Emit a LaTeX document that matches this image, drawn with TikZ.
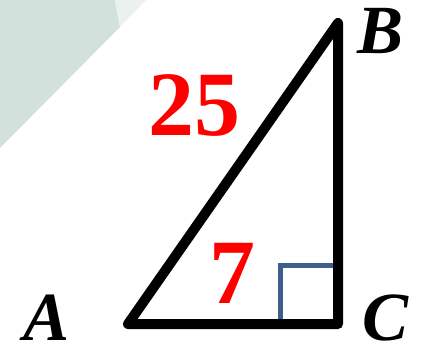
\documentclass[tikz,border=0pt]{standalone}
\usepackage{fontspec}
\setmainfont{Liberation Serif}
\definecolor{bgdark}{HTML}{D3E1DC}
\definecolor{bglight}{HTML}{EAF1EF}
\definecolor{markblue}{HTML}{3E5F8A}
\tikzset{
  side/.style={line width=10pt, line join=round, line cap=round, black},
  vlabel/.style={inner sep=0pt, font=\fontsize{69}{69}\selectfont\bfseries\itshape},
  numlabel/.style={inner sep=0pt, text=red, font=\fontsize{92}{92}\selectfont\bfseries},
  rmark/.style={line width=5pt, markblue}
}
\begin{document}
\begin{tikzpicture}[x=1pt,y=-1pt]
\useasboundingbox (0,0) rectangle (423,350);
\fill[bgdark] (0,0) -- (115,0) -- (120,27) -- (0,148) -- cycle;
\fill[bglight] (115,0) -- (146,0) -- (120,27) -- cycle;
\coordinate (A) at (128,324);
\coordinate (B) at (338,23);
\coordinate (C) at (338,324);
\coordinate (m1) at (280,324);
\coordinate (m2) at (280,265);
\coordinate (m3) at (338,265);
\draw[rmark] (m1) -- (m2) -- (m3);
\draw[side] (A) -- (B) -- (C) -- cycle;
\node[vlabel] (la) at (47,318) {A};
\node[vlabel] (lb) at (381,31) {B};
\node[vlabel] (lc) at (386,318) {C};
\node[numlabel] (n25) at (194,105) {25};
\node[numlabel] (n7) at (232,273) {7};
\end{tikzpicture}
\end{document}
